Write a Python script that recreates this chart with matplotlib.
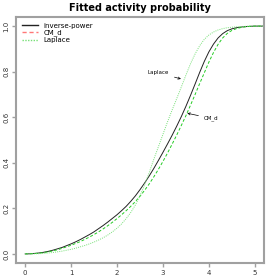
import matplotlib
matplotlib.use("Agg")
import matplotlib.pyplot as plt
from matplotlib.lines import Line2D

x = [0.0, 0.1, 0.2, 0.3, 0.4, 0.5, 0.6, 0.7, 0.8, 0.9,
     1.0, 1.1, 1.2, 1.3, 1.4, 1.5, 1.6, 1.7, 1.8, 1.9,
     2.0, 2.1, 2.2, 2.3, 2.4, 2.5, 2.6, 2.7, 2.8, 2.9,
     3.0, 3.1, 3.2, 3.3, 3.4, 3.5, 3.6, 3.7, 3.8, 3.9,
     4.0, 4.1, 4.2, 4.3, 4.4, 4.5, 4.6, 4.7, 4.8, 4.9,
     5.0, 5.1, 5.2]
inverse_power = [0.0, 0.0004, 0.002, 0.004, 0.007, 0.011, 0.016, 0.022, 0.028, 0.036,
                 0.044, 0.053, 0.063, 0.074, 0.085, 0.097, 0.111, 0.125, 0.140, 0.156,
                 0.172, 0.190, 0.209, 0.231, 0.255, 0.282, 0.311, 0.342, 0.375, 0.410,
                 0.446, 0.483, 0.521, 0.561, 0.603, 0.648, 0.696, 0.746, 0.797, 0.845,
                 0.887, 0.921, 0.948, 0.967, 0.980, 0.988, 0.993, 0.996, 0.998, 0.999,
                 1.0, 1.0, 1.0]
cm_d = [0.0, 0.0003, 0.0015, 0.003, 0.006, 0.009, 0.013, 0.018, 0.024, 0.031,
        0.038, 0.046, 0.054, 0.064, 0.074, 0.085, 0.097, 0.110, 0.124, 0.139,
        0.155, 0.172, 0.190, 0.209, 0.230, 0.253, 0.279, 0.307, 0.338, 0.371,
        0.406, 0.443, 0.482, 0.522, 0.564, 0.607, 0.653, 0.700, 0.748, 0.795,
        0.842, 0.884, 0.920, 0.948, 0.968, 0.981, 0.989, 0.994, 0.997, 0.999,
        1.0, 1.0, 1.0]
laplace = [0.0, 0.0001, 0.0005, 0.001, 0.002, 0.004, 0.006, 0.009, 0.012, 0.016,
           0.020, 0.025, 0.031, 0.037, 0.044, 0.052, 0.061, 0.071, 0.083, 0.097,
           0.113, 0.132, 0.155, 0.182, 0.215, 0.255, 0.303, 0.357, 0.415, 0.470,
           0.525, 0.580, 0.632, 0.682, 0.733, 0.785, 0.835, 0.878, 0.914, 0.942,
           0.961, 0.974, 0.983, 0.989, 0.993, 0.995, 0.997, 0.998, 0.999, 1.0,
           1.0, 1.0, 1.0]
x_ticks = [0, 1, 2, 3, 4, 5]
y_ticks = [0.0, 0.2, 0.4, 0.6, 0.8, 1.0]
series_names = ["inverse-power", "CM_d", "Laplace"]
title = "Fitted activity probability"

fig = plt.figure(figsize=(2.8, 2.8), dpi=100)
ax = fig.add_axes([16/280, 17/280, 248/280, 246/280])

ax.plot(x, inverse_power, color="#222222", lw=0.7)
ax.plot(x, cm_d, color="#22cc22", lw=0.7, ls=(0, (3, 2)))
ax.plot(x, laplace, color="#77e077", lw=0.7, ls=(0, (1, 1.2)))

ax.set_xlim(-0.2, 5.2)
ax.set_ylim(-0.04, 1.04)

ax.set_xticks(x_ticks)
ax.set_xticklabels([str(t) for t in x_ticks])
ax.set_yticks(y_ticks)
ax.set_yticklabels(["%.1f" % t for t in y_ticks], rotation=90, va="center")

for s in ax.spines.values():
    s.set_color("#a0a0a0")
    s.set_linewidth(1.5)
ax.tick_params(axis="both", colors="#a0a0a0", labelcolor="#333333",
               labelsize=5, length=3, width=1, pad=2)

ax.set_title(title, fontsize=7, fontweight="bold", pad=4)

handles = [Line2D([], [], color="#222222", lw=1),
           Line2D([], [], color="#ff7777", lw=1, ls=(0, (3, 2))),
           Line2D([], [], color="#77e077", lw=1, ls=(0, (1, 1)))]
ax.legend(handles, series_names, loc="upper left",
          frameon=False, fontsize=5, handlelength=2.4, handletextpad=0.8,
          labelspacing=0.15, borderaxespad=0.4)

ax.annotate("Laplace", xy=(3.45, 0.765), xytext=(2.9, 0.795), fontsize=4,
            ha="center", va="center",
            arrowprops=dict(arrowstyle="->", color="black", lw=0.5))
ax.annotate("CM_d", xy=(3.47, 0.62), xytext=(4.05, 0.595), fontsize=4,
            ha="center", va="center",
            arrowprops=dict(arrowstyle="->", color="black", lw=0.5))

fig.savefig("out.png", dpi=100)
